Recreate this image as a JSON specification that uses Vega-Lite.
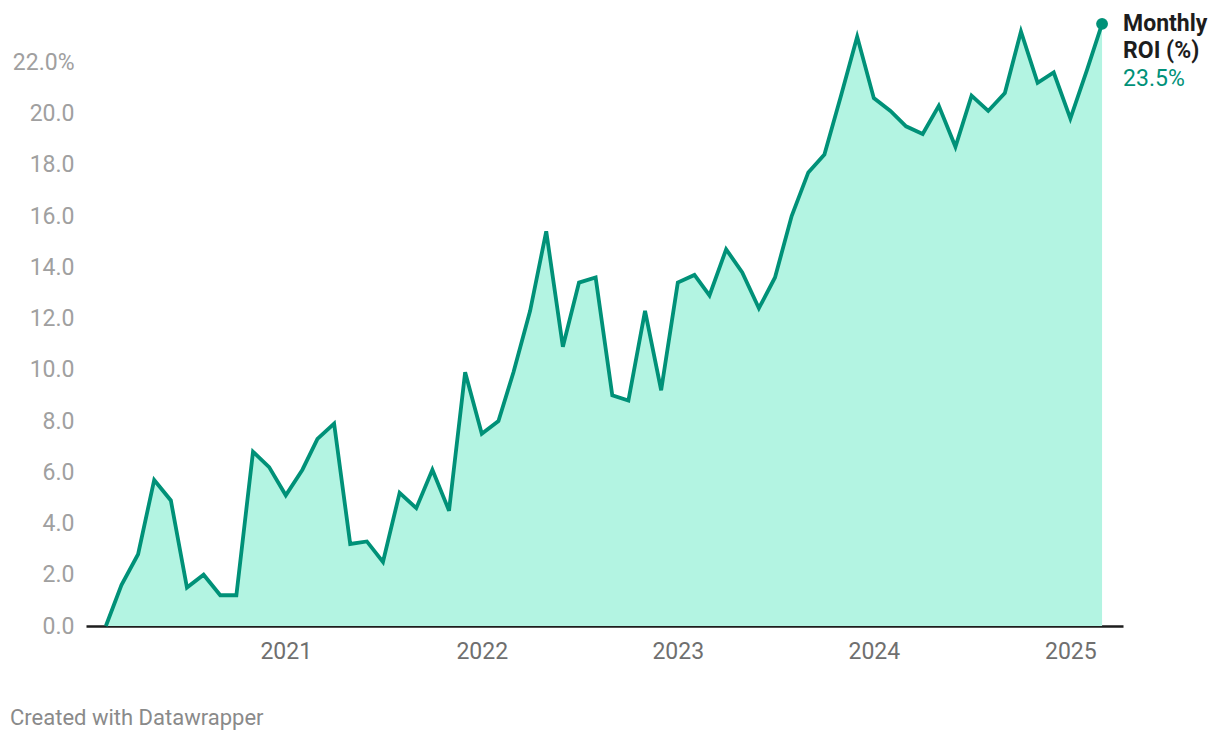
{
  "$schema": "https://vega.github.io/schema/vega-lite/v6.json",
  "width": 1037,
  "height": 615,
  "autosize": "none",
  "padding": {"left": 86, "top": 11, "right": 97, "bottom": 116},
  "background": "white",
  "config": {
    "view": {"stroke": null},
    "font": "Roboto",
    "axis": {"labelFont": "Roboto", "grid": false, "ticks": false}
  },
  "title": {
    "text": "Created with Datawrapper",
    "orient": "bottom",
    "anchor": "start",
    "frame": "group",
    "font": "Roboto",
    "fontSize": 22,
    "fontWeight": "normal",
    "color": "#8a8a8a",
    "offset": 45,
    "dx": -76
  },
  "data": {
    "values": [
      {"date": "2020-02-01", "roi": 0.0},
      {"date": "2020-03-01", "roi": 1.6},
      {"date": "2020-04-01", "roi": 2.8},
      {"date": "2020-05-01", "roi": 5.7},
      {"date": "2020-06-01", "roi": 4.9},
      {"date": "2020-07-01", "roi": 1.5},
      {"date": "2020-08-01", "roi": 2.0},
      {"date": "2020-09-01", "roi": 1.2},
      {"date": "2020-10-01", "roi": 1.2},
      {"date": "2020-11-01", "roi": 6.8},
      {"date": "2020-12-01", "roi": 6.2},
      {"date": "2021-01-01", "roi": 5.1},
      {"date": "2021-02-01", "roi": 6.1},
      {"date": "2021-03-01", "roi": 7.3},
      {"date": "2021-04-01", "roi": 7.9},
      {"date": "2021-05-01", "roi": 3.2},
      {"date": "2021-06-01", "roi": 3.3},
      {"date": "2021-07-01", "roi": 2.5},
      {"date": "2021-08-01", "roi": 5.2},
      {"date": "2021-09-01", "roi": 4.6},
      {"date": "2021-10-01", "roi": 6.1},
      {"date": "2021-11-01", "roi": 4.5},
      {"date": "2021-12-01", "roi": 9.9},
      {"date": "2022-01-01", "roi": 7.5},
      {"date": "2022-02-01", "roi": 8.0},
      {"date": "2022-03-01", "roi": 9.9},
      {"date": "2022-04-01", "roi": 12.3},
      {"date": "2022-05-01", "roi": 15.4},
      {"date": "2022-06-01", "roi": 10.9},
      {"date": "2022-07-01", "roi": 13.4},
      {"date": "2022-08-01", "roi": 13.6},
      {"date": "2022-09-01", "roi": 9.0},
      {"date": "2022-10-01", "roi": 8.8},
      {"date": "2022-11-01", "roi": 12.3},
      {"date": "2022-12-01", "roi": 9.2},
      {"date": "2023-01-01", "roi": 13.4},
      {"date": "2023-02-01", "roi": 13.7},
      {"date": "2023-03-01", "roi": 12.9},
      {"date": "2023-04-01", "roi": 14.7},
      {"date": "2023-05-01", "roi": 13.8},
      {"date": "2023-06-01", "roi": 12.4},
      {"date": "2023-07-01", "roi": 13.6},
      {"date": "2023-08-01", "roi": 16.0},
      {"date": "2023-09-01", "roi": 17.7},
      {"date": "2023-10-01", "roi": 18.4},
      {"date": "2023-11-01", "roi": 20.7},
      {"date": "2023-12-01", "roi": 23.0},
      {"date": "2024-01-01", "roi": 20.6},
      {"date": "2024-02-01", "roi": 20.1},
      {"date": "2024-03-01", "roi": 19.5},
      {"date": "2024-04-01", "roi": 19.2},
      {"date": "2024-05-01", "roi": 20.3},
      {"date": "2024-06-01", "roi": 18.7},
      {"date": "2024-07-01", "roi": 20.7},
      {"date": "2024-08-01", "roi": 20.1},
      {"date": "2024-09-01", "roi": 20.8},
      {"date": "2024-10-01", "roi": 23.2},
      {"date": "2024-11-01", "roi": 21.2},
      {"date": "2024-12-01", "roi": 21.6},
      {"date": "2025-01-01", "roi": 19.8},
      {"date": "2025-02-01", "roi": 21.7},
      {"date": "2025-03-01", "roi": 23.5}
    ]
  },
  "encoding": {
    "x": {
      "field": "date",
      "type": "temporal",
      "scale": {
        "type": "utc",
        "domain": [
          {"year": 2019, "month": 12, "date": 26, "utc": true},
          {"year": 2025, "month": 4, "date": 9, "utc": true}
        ]
      },
      "axis": {
        "title": null,
        "format": "%Y",
        "formatType": "utc",
        "values": [
          {"year": 2021, "month": 1, "date": 1, "utc": true},
          {"year": 2022, "month": 1, "date": 1, "utc": true},
          {"year": 2023, "month": 1, "date": 1, "utc": true},
          {"year": 2024, "month": 1, "date": 1, "utc": true},
          {"year": 2025, "month": 1, "date": 1, "utc": true}
        ],
        "labelFontSize": 23,
        "labelColor": "#6f6f6f",
        "labelPadding": 14,
        "domain": true,
        "domainColor": "#1d1d1d",
        "domainWidth": 2.5
      }
    },
    "y": {
      "field": "roi",
      "type": "quantitative",
      "scale": {"domain": [0, 24], "nice": false, "zero": true},
      "axis": {
        "title": null,
        "values": [0, 2, 4, 6, 8, 10, 12, 14, 16, 18, 20, 22],
        "labelExpr": "datum.value == 22 ? '22.0%' : format(datum.value, '.1f')",
        "labelFontSize": 23,
        "labelColor": "#a0a0a0",
        "labelPadding": 12,
        "domain": false
      }
    }
  },
  "layer": [
    {
      "mark": {"type": "area", "color": "#b3f4e2", "opacity": 1}
    },
    {
      "mark": {"type": "line", "color": "#009178", "strokeWidth": 3.8, "strokeJoin": "miter"}
    },
    {
      "transform": [{"filter": "utcyear(datum.date) == 2025 && utcmonth(datum.date) == 2"}],
      "mark": {"type": "point", "filled": true, "color": "#009178", "size": 140, "opacity": 1}
    },
    {
      "transform": [{"filter": "utcyear(datum.date) == 2025 && utcmonth(datum.date) == 2"}],
      "mark": {
        "type": "text",
        "align": "left",
        "baseline": "alphabetic",
        "dx": 21,
        "dy": 7,
        "font": "Roboto",
        "fontSize": 23,
        "fontWeight": "bold",
        "color": "#1d1d1d",
        "lineHeight": 27,
        "text": ["Monthly", "ROI (%)"]
      }
    },
    {
      "transform": [
        {"filter": "utcyear(datum.date) == 2025 && utcmonth(datum.date) == 2"},
        {"calculate": "format(datum.roi, '.1f') + '%'", "as": "label"}
      ],
      "mark": {
        "type": "text",
        "align": "left",
        "baseline": "alphabetic",
        "dx": 21,
        "dy": 62,
        "font": "Roboto",
        "fontSize": 23,
        "color": "#009178"
      },
      "encoding": {
        "text": {"field": "label", "type": "nominal"}
      }
    }
  ]
}
